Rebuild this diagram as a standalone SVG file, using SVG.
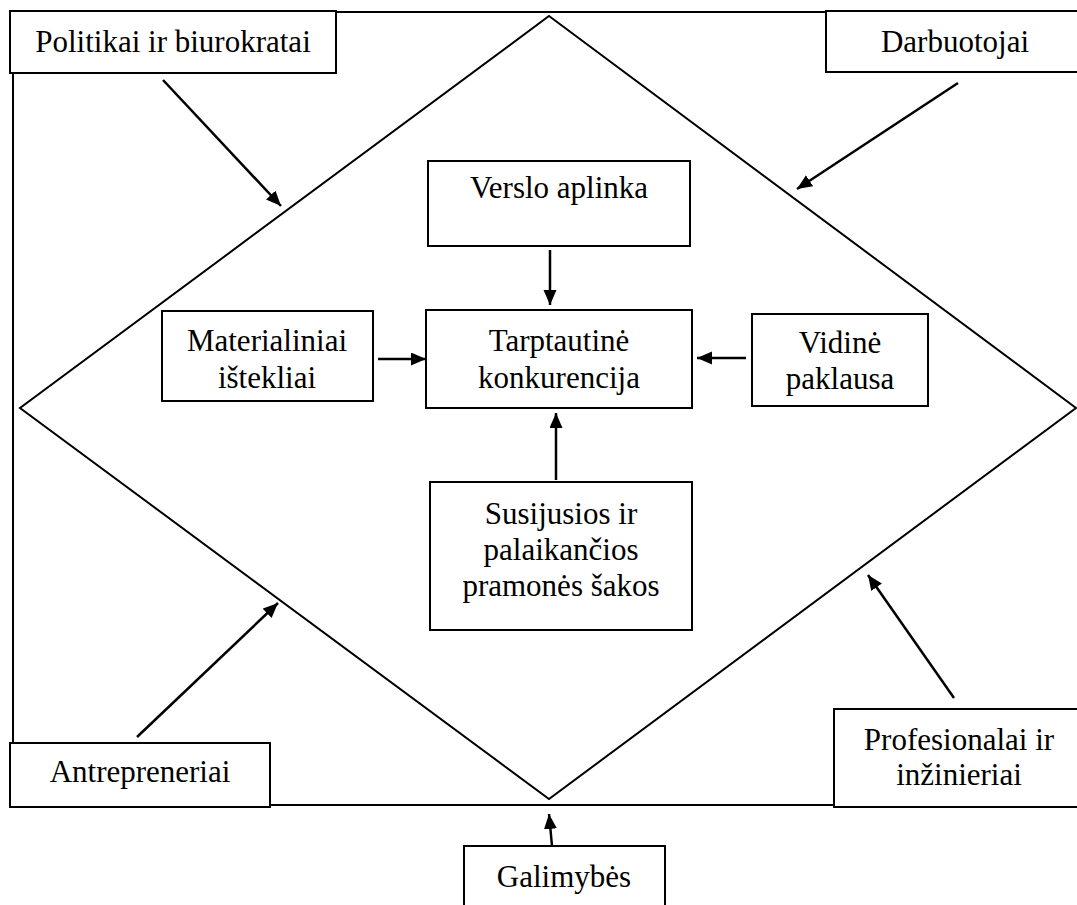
<svg xmlns="http://www.w3.org/2000/svg" width="1077" height="905" viewBox="0 0 1077 905">
<style>
.box{fill:#fff;stroke:#000;stroke-width:2}
.t{font-family:"Liberation Serif","Times New Roman",serif;font-size:31px;fill:#000;text-anchor:middle}
.ln{fill:none;stroke:#000;stroke-width:2}
.ar{fill:none;stroke:#000;stroke-width:2.5;marker-end:url(#ah)}
</style>
<defs>
<marker id="ah" markerUnits="userSpaceOnUse" markerWidth="16" markerHeight="14" refX="15" refY="6.5" orient="auto">
<path d="M0,0 L15,6.5 L0,13 z" fill="#000"/>
</marker>
</defs>
<rect width="1077" height="905" fill="#fff"/>
<g id="frame">
<polyline class="ln" points="336,12 826,12"/>
<polyline class="ln" points="13,73 13,743"/>
<polyline class="ln" points="270,805 834,805"/>
<polygon class="ln" points="549,16 1076,408 549,799 20,408"/>
</g>
<g id="connectors">
<line class="ar" x1="163" y1="80" x2="281" y2="206"/>
<line class="ar" x1="958" y1="83" x2="797" y2="189"/>
<line class="ar" x1="137" y1="737" x2="278" y2="603"/>
<line class="ar" x1="954" y1="698" x2="868" y2="575"/>
<line class="ar" x1="552" y1="846" x2="549" y2="814"/>
<line class="ar" x1="550" y1="250" x2="550" y2="305"/>
<line class="ar" x1="378" y1="359" x2="426" y2="359"/>
<line class="ar" x1="746" y1="358" x2="697" y2="358"/>
<line class="ar" x1="556" y1="480" x2="556" y2="413"/>
</g>
<g id="politikai">
<rect class="box" x="10" y="11" width="326" height="62"/>
<text class="t" x="173" y="52">Politikai ir biurokratai</text>
</g>
<g id="darbuotojai">
<rect class="box" x="826" y="11" width="260" height="61"/>
<text class="t" x="955" y="52">Darbuotojai</text>
</g>
<g id="antrepreneriai">
<rect class="box" x="10" y="743" width="260" height="64"/>
<text class="t" x="140" y="782">Antrepreneriai</text>
</g>
<g id="profesionalai">
<rect class="box" x="834" y="709" width="252" height="98"/>
<text class="t" x="959" y="750">Profesionalai ir</text>
<text class="t" x="959" y="785">inžinieriai</text>
</g>
<g id="galimybes">
<rect class="box" x="464" y="846" width="201" height="70"/>
<text class="t" x="564" y="887">Galimybės</text>
</g>
<g id="verslo">
<rect class="box" x="428" y="161" width="262" height="85"/>
<text class="t" x="559" y="198">Verslo aplinka</text>
</g>
<g id="tarptautine">
<rect class="box" x="426" y="310" width="266" height="98"/>
<text class="t" x="559" y="351">Tarptautinė</text>
<text class="t" x="559" y="388">konkurencija</text>
</g>
<g id="materialiniai">
<rect class="box" x="162" y="311" width="211" height="90"/>
<text class="t" x="267" y="351">Materialiniai</text>
<text class="t" x="267" y="388">ištekliai</text>
</g>
<g id="vidine">
<rect class="box" x="752" y="314" width="176" height="92"/>
<text class="t" x="840" y="353">Vidinė</text>
<text class="t" x="840" y="389">paklausa</text>
</g>
<g id="susijusios">
<rect class="box" x="430" y="482" width="262" height="148"/>
<text class="t" x="561" y="524">Susijusios ir</text>
<text class="t" x="561" y="560">palaikančios</text>
<text class="t" x="561" y="596">pramonės šakos</text>
</g>
</svg>
